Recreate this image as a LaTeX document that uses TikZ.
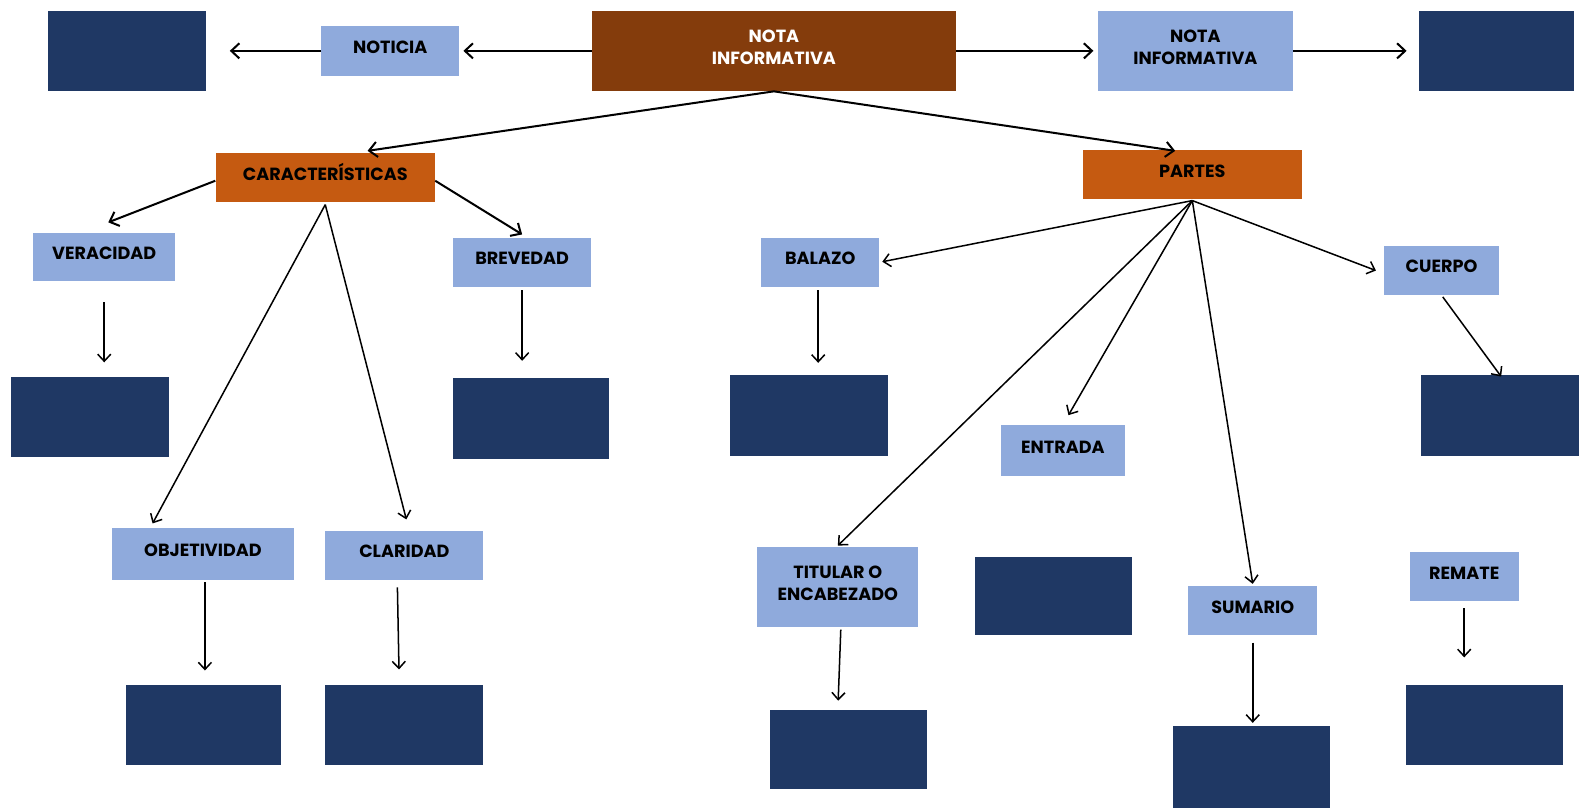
\documentclass[tikz,border=0pt]{standalone}
\usepackage{fontspec}
\newfontfamily\boxfont{Poppins}
\usetikzlibrary{arrows.meta}

\definecolor{navy}{HTML}{1F3864}
\definecolor{lightblue}{HTML}{8FAADC}
\definecolor{rust}{HTML}{C55A11}
\definecolor{brownish}{HTML}{843C0C}

\tikzset{
  boxbase/.style={rectangle, inner sep=0pt, font=\boxfont\bfseries\fontsize{17.5}{22}\selectfont},
  darkbox/.style={boxbase, fill=navy, minimum width=156pt, minimum height=80pt},
  lightbox/.style={boxbase, fill=lightblue, minimum height=49pt, text height=13pt, text depth=8pt},
  orangebox/.style={boxbase, fill=rust, minimum height=49pt, text height=13pt, text depth=8pt},
  pairbox/.style={boxbase, align=center, minimum height=80pt},
  arr/.style={line width=2pt, -{Straight Barb[length=8pt,width=15pt]}},
  thinarr/.style={line width=1.5pt, -{Straight Barb[length=7pt,width=13pt]}}
}

\begin{document}
\begin{tikzpicture}[x=1pt, y=-1pt]
\useasboundingbox (0,0) rectangle (1568,802);

% top row
\node[darkbox, minimum width=157pt] (dark1) at (126.5,50.5) {};
\node[lightbox, minimum width=137pt] (noticia) at (387.5,50.5) {NOTICIA};
\node[pairbox, fill=brownish, text=white, minimum width=361pt] (nota) at (768.5,50.5) {NOTA\\INFORMATIVA\\[-15pt]\mbox{}};
\node[pairbox, fill=lightblue, minimum width=194pt] (notaluz) at (1187,50.5) {NOTA\\INFORMATIVA\\[-15pt]\mbox{}};
\node[darkbox, minimum width=154pt] (dark2) at (1486,50.5) {};

% second row
\node[orangebox, minimum width=218pt] (caract) at (323,176.5) {CARACTERÍSTICAS};
\node[orangebox, minimum width=218pt] (partes) at (1184,173.5) {PARTES};

% caracteristicas
\node[lightbox, minimum width=141pt, minimum height=48pt] (veracidad) at (103.5,255) {VERACIDAD};
\node[lightbox, minimum width=137pt] (brevedad) at (518.5,260.5) {BREVEDAD};
\node[lightbox, minimum width=181pt, minimum height=52pt] (objetividad) at (201.5,550) {OBJETIVIDAD};
\node[lightbox, minimum width=157pt] (claridad) at (401.5,551.5) {CLARIDAD};
\node[darkbox, minimum width=157pt] (verdark) at (89.5,414) {};
\node[darkbox, minimum width=155pt] (brevdark) at (527.5,415.5) {};
\node[darkbox, minimum width=154pt] (objdark) at (202,720) {};
\node[darkbox, minimum width=157pt] (clardark) at (401.5,720) {};

% partes
\node[lightbox, minimum width=117pt] (balazo) at (814.5,260.5) {BALAZO};
\node[lightbox, minimum width=115pt] (cuerpo) at (1431.5,268.5) {CUERPO};
\node[lightbox, minimum width=123pt, minimum height=51pt] (entrada) at (1055.5,447.5) {ENTRADA};
\node[pairbox, fill=lightblue, minimum width=160pt] (titular) at (832,583) {TITULAR O\\ENCABEZADO\\[-15pt]\mbox{}};
\node[lightbox, minimum width=128pt] (sumario) at (1244,606.5) {SUMARIO};
\node[lightbox, minimum width=108pt] (remate) at (1454,572.5) {REMATE};
\node[darkbox, minimum width=157pt] (balazodark) at (803.5,412.5) {};
\node[darkbox, minimum width=157pt] (cuerpodark) at (1489.5,412.5) {};
\node[darkbox, minimum height=78pt] (entradadark) at (1046,592) {};
\node[darkbox, minimum height=78pt] (titdark) at (843,744) {};
\node[darkbox, minimum height=81pt] (sumdark) at (1243,761.5) {};
\node[darkbox] (rematedark) at (1474,720) {};

% arrows
\draw[arr, shorten >=4pt] (nota.west) -- (noticia.east);
\draw[arr, shorten >=23pt] (noticia.west) -- (dark1.east);
\draw[arr, shorten >=4pt] (nota.east) -- (notaluz.west);
\draw[arr, shorten >=12pt] (notaluz.east) -- (dark2.west);
\draw[arr] (nota.south) -- ([xshift=42pt, yshift=2pt]caract.north);
\draw[arr] (nota.south) -- ([xshift=-17pt, yshift=-1pt]partes.north);

\draw[arr] ([yshift=-3pt]caract.west) -- ([xshift=4pt, yshift=10pt]veracidad.north);
\draw[arr] ([yshift=-3pt]caract.east) -- ([yshift=3pt]brevedad.north);
\draw[thinarr] ([yshift=-2pt]caract.south) -- ([xshift=-50pt, yshift=4pt]objetividad.north);
\draw[thinarr] ([yshift=-2pt]caract.south) -- ([xshift=2pt, yshift=11pt]claridad.north);
\draw[thinarr, shorten <=21pt, shorten >=14pt] (veracidad.south) -- (veracidad.south |- verdark.north);
\draw[thinarr, shorten <=3pt, shorten >=17pt] (brevedad.south) -- (brevedad.south |- brevdark.north);
\draw[thinarr, shorten <=2pt, shorten >=14pt] ([xshift=2pt]objetividad.south) -- ([xshift=2pt]objetividad.south |- objdark.north);
\draw[thinarr, shorten <=7pt, shorten >=15pt] ([xshift=-7pt]claridad.south) -- ([xshift=-5pt]clardark.north);

\draw[thinarr, shorten >=3pt] ([yshift=-1pt]partes.south) -- (balazo.east);
\draw[thinarr, shorten >=8pt] ([yshift=-1pt]partes.south) -- ([yshift=-3pt]cuerpo.west);
\draw[thinarr] ([yshift=-1pt]partes.south) -- ([yshift=1pt]titular.north);
\draw[thinarr, shorten >=11pt] ([yshift=-1pt]partes.south) -- (entrada.north);
\draw[thinarr] ([yshift=-1pt]partes.south) -- ([yshift=2pt]sumario.north);
\draw[thinarr, shorten <=3pt, shorten >=12pt] ([xshift=-2pt]balazo.south) -- ([xshift=-2pt]balazo.south |- balazodark.north);
\draw[thinarr, shorten <=2pt, shorten >=-2pt] (cuerpo.south) -- (cuerpodark.north);
\draw[thinarr, shorten <=2pt, shorten >=9pt] ([xshift=3pt]titular.south) -- ([xshift=-11pt]titdark.north);
\draw[thinarr, shorten <=7pt, shorten >=3pt] (sumario.south) -- (sumario.south |- sumdark.north);
\draw[thinarr, shorten <=7pt, shorten >=27pt] (remate.south) -- (remate.south |- rematedark.north);
\end{tikzpicture}
\end{document}
